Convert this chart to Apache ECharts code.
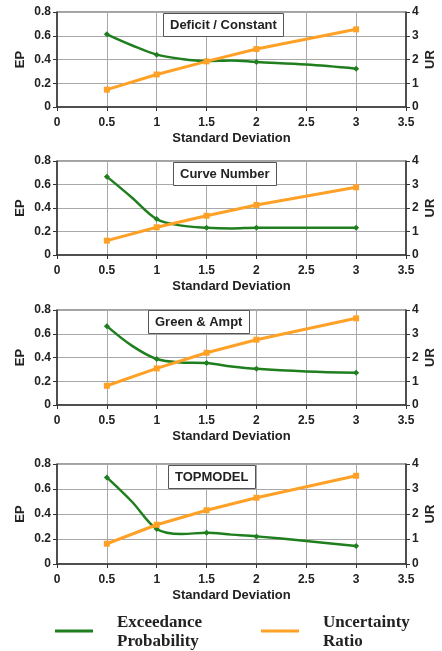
<!DOCTYPE html>
<html>
<head>
<meta charset="utf-8">
<script src="https://cdn.jsdelivr.net/npm/echarts@6/dist/echarts.min.js"></script>
<style>
html,body{margin:0;padding:0;background:#fff;}
#c{width:442px;height:651px;}
</style>
</head>
<body>
<div id="c"></div>
<script>
// ---- data ----
const panelTitles = ['Deficit / Constant', 'Curve Number', 'Green & Ampt', 'TOPMODEL'];
const xTicks = [0, 0.5, 1, 1.5, 2, 2.5, 3, 3.5];
const epTicks = [0, 0.2, 0.4, 0.6, 0.8];
const urTicks = [0, 1, 2, 3, 4];
const markerSd = [0.5, 1, 1.5, 2, 3];
const epSd = [0.5, 0.75, 1, 1.25, 1.5, 1.75, 2, 2.5, 3];
const urSd = [0.5, 1, 1.5, 2, 3];

const deficitEP = [0.612, 0.52, 0.441, 0.405, 0.388, 0.392, 0.379, 0.357, 0.323];
const curveNumberEP = [0.667, 0.49, 0.306, 0.25, 0.232, 0.226, 0.232, 0.232, 0.232];
const greenAmptEP = [0.664, 0.50, 0.387, 0.358, 0.353, 0.325, 0.305, 0.283, 0.271];
const topmodelEP = [0.693, 0.50, 0.28, 0.24, 0.25, 0.235, 0.221, 0.184, 0.144];

const deficitUR = [0.73, 1.37, 1.92, 2.44, 3.27];
const curveNumberUR = [0.61, 1.18, 1.67, 2.13, 2.88];
const greenAmptUR = [0.81, 1.54, 2.2, 2.75, 3.65];
const topmodelUR = [0.81, 1.57, 2.15, 2.65, 3.53];

const legendNames = ['Exceedance\nProbability', 'Uncertainty\nRatio'];

// ---- layout/style ----
const epAll = [deficitEP, curveNumberEP, greenAmptEP, topmodelEP];
const urAll = [deficitUR, curveNumberUR, greenAmptUR, topmodelUR];
const gridTops = [12, 161, 310, 464];
const gridHeights = [95, 94, 95, 100];
const titleLefts = [163, 173, 148, 168];
const GREEN = '#1f7f1f';
const ORANGE = '#ffa126';
const sans = 'Liberation Sans, Arial, sans-serif';

const chart = echarts.init(document.getElementById('c'));
const grids = [], xAxes = [], yAxes = [], series = [], titles = [];

for (let i = 0; i < 4; i++) {
  grids.push({left: 57, right: 36, top: gridTops[i], height: gridHeights[i],
    outerBoundsMode: 'none', containLabel: false,
    show: true, borderColor: '#444', borderWidth: 1, backgroundColor: 'transparent'});
  xAxes.push({type: 'value', gridIndex: i, min: xTicks[0], max: xTicks[xTicks.length - 1],
    interval: xTicks[1] - xTicks[0],
    name: 'Standard Deviation', nameLocation: 'middle', nameGap: 25, nameMoveOverlap: false,
    nameTextStyle: {fontFamily: sans, fontWeight: 'bold', fontSize: 13, color: '#222'},
    axisLine: {show: true, onZero: false, lineStyle: {color: '#333', width: 1.5}},
    axisTick: {show: true, inside: false, length: 4, lineStyle: {color: '#333'}},
    axisLabel: {fontFamily: sans, fontWeight: 'bold', fontSize: 12, color: '#222', margin: 10},
    splitLine: {show: true, lineStyle: {color: '#a8a8a8', width: 1}}});
  yAxes.push({type: 'value', gridIndex: i, position: 'left', min: epTicks[0], max: epTicks[epTicks.length - 1],
    interval: epTicks[1] - epTicks[0],
    name: 'EP', nameLocation: 'middle', nameGap: 30, nameRotate: 90, nameMoveOverlap: false,
    nameTextStyle: {fontFamily: sans, fontWeight: 'bold', fontSize: 13, color: '#222'},
    axisLine: {show: true, lineStyle: {color: '#333', width: 1.5}},
    axisTick: {show: true, length: 4, lineStyle: {color: '#333'}},
    axisLabel: {fontFamily: sans, fontWeight: 'bold', fontSize: 12, color: '#222', margin: 6,
      formatter: v => (v === 0 ? '0' : v.toFixed(1))},
    splitLine: {show: true, lineStyle: {color: '#a8a8a8', width: 1}}});
  yAxes.push({type: 'value', gridIndex: i, position: 'right', min: urTicks[0], max: urTicks[urTicks.length - 1],
    interval: urTicks[1] - urTicks[0],
    name: 'UR', nameLocation: 'middle', nameGap: 18, nameRotate: 90, nameMoveOverlap: false,
    nameTextStyle: {fontFamily: sans, fontWeight: 'bold', fontSize: 13, color: '#222'},
    axisLine: {show: true, lineStyle: {color: '#333', width: 1.5}},
    axisTick: {show: true, length: 4, lineStyle: {color: '#333'}},
    axisLabel: {fontFamily: sans, fontWeight: 'bold', fontSize: 12, color: '#222', margin: 6},
    splitLine: {show: false}});
  titles.push({text: panelTitles[i], left: titleLefts[i], top: gridTops[i] + (i === 2 ? 0 : 1),
    padding: [6, 7, 5, 7], backgroundColor: '#fff', borderColor: '#555', borderWidth: 1,
    textStyle: {fontFamily: sans, fontWeight: 'bold', fontSize: 13, color: '#222'}});

  const ep = epAll[i];
  series.push({type: 'line', name: legendNames[0], xAxisIndex: i, yAxisIndex: i * 2,
    smooth: 0.35, lineStyle: {color: GREEN, width: 2.5}, itemStyle: {color: GREEN},
    symbol: 'diamond', symbolSize: 6, z: 3,
    data: epSd.map((x, k) => ({value: [x, ep[k]], symbol: markerSd.includes(x) ? 'diamond' : 'none'}))});
  const ur = urAll[i];
  series.push({type: 'line', name: legendNames[1], xAxisIndex: i, yAxisIndex: i * 2 + 1,
    lineStyle: {color: ORANGE, width: 3}, itemStyle: {color: ORANGE},
    symbol: 'rect', symbolSize: 6, z: 4,
    data: urSd.map((x, k) => [x, ur[k]])});
}

const serif = 'Liberation Serif, Times New Roman, serif';
chart.setOption({
  animation: false,
  title: titles,
  grid: grids,
  xAxis: xAxes,
  yAxis: yAxes,
  series: series,
  graphic: [
    {type: 'line', shape: {x1: 55, y1: 631, x2: 93, y2: 631}, style: {stroke: GREEN, lineWidth: 3}},
    {type: 'text', left: 117, top: 613, style: {text: legendNames[0], font: 'bold 17px ' + serif, fill: '#222', lineHeight: 19}},
    {type: 'line', shape: {x1: 261, y1: 631, x2: 299, y2: 631}, style: {stroke: ORANGE, lineWidth: 3}},
    {type: 'text', left: 323, top: 613, style: {text: legendNames[1], font: 'bold 17px ' + serif, fill: '#222', lineHeight: 19}}
  ]
});
</script>
</body>
</html>
